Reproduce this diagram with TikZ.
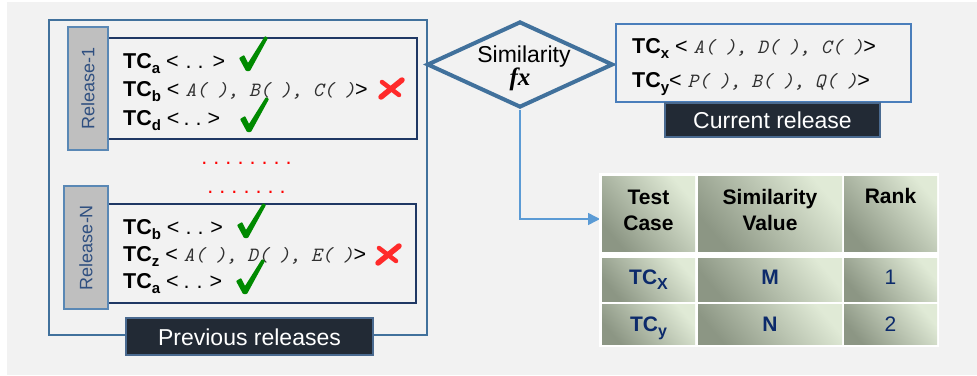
\documentclass[tikz,border=0pt]{standalone}
\usepackage{fontspec}
\setmainfont{Liberation Sans}
\setmonofont{Latin Modern Mono}
\newfontfamily\serifb{Liberation Serif}
\usetikzlibrary{arrows.meta,shapes.geometric,fit}
\definecolor{bgc}{HTML}{F2F2F2}
\definecolor{frameblue}{HTML}{41719C}
\definecolor{curblue}{HTML}{4A7EBB}
\definecolor{navyc}{HTML}{1F3864}
\definecolor{tabgray}{HTML}{BFBFBF}
\definecolor{tabblue}{HTML}{5A88B5}
\definecolor{tabtxt}{HTML}{2F4F80}
\definecolor{labelc}{HTML}{222A35}
\definecolor{labeledge}{HTML}{4A6A90}
\definecolor{arrowc}{HTML}{5B9BD5}
\definecolor{cellhi}{HTML}{E0EAD6}
\definecolor{celllo}{HTML}{8C9684}
\definecolor{chkgreen}{HTML}{008A00}
\definecolor{xred}{HTML}{FF2A2A}
\definecolor{rowtxt}{HTML}{0C2A6B}
\definecolor{monoc}{HTML}{303030}
\newcommand\tcsub[1]{\textbf{TC}\raisebox{-5pt}{\fontsize{15}{15}\selectfont\bfseries #1}}
\newcommand\mono[1]{{\ttfamily\itshape\fontsize{20.2}{20.2}\selectfont\color{monoc}#1}}
\newcommand\dotgap[3]{<\hspace{#1pt}.\hspace{#2pt}.\hspace{#3pt}>}
\begin{document}
\begin{tikzpicture}[x=1pt,y=-1pt,
  outerframe/.style={draw=frameblue, line width=2pt, inner sep=0pt},
  curframe/.style={draw=curblue, line width=2pt, inner sep=0pt},
  relbox/.style={draw=navyc, line width=1.3pt, inner sep=0pt},
  tabbox/.style={draw=tabblue, fill=tabgray, line width=1.8pt, inner sep=0pt},
  tabtext/.style={rotate=90, text=tabtxt, font=\fontsize{18}{18}\selectfont, inner sep=0pt},
  darklabel/.style={fill=labelc, draw=labeledge, line width=1.5pt, inner sep=0pt},
  labeltext/.style={text=white, font=\fontsize{23}{23}\selectfont, inner sep=0pt, anchor=base},
  tcline/.style={anchor=base west, inner sep=0pt, font=\fontsize{21.5}{21.5}\selectfont},
  dotrow/.style={anchor=base, inner sep=0pt, text=red, font=\fontsize{21.6}{21.6}\selectfont\frenchspacing},
  cell/.style={inner sep=0pt, draw=none, top color=cellhi, bottom color=celllo, shading angle=-50},
  hdrtext/.style={font=\fontsize{21}{26}\selectfont\bfseries, align=center, inner sep=0pt, anchor=base},
  rowtext/.style={font=\fontsize{21}{21}\selectfont, text=rowtxt, inner sep=0pt, anchor=base},
  flow/.style={draw=arrowc, line width=1.5pt, -{Triangle[length=12pt,width=12pt]}},
  chk/.pic={\fill[chkgreen, rounded corners=0.8pt] (0,22) -- (5,19) -- (9,27) -- (26,0) -- (29,2) -- (11,35) -- (7,35) -- cycle;},
  xmark/.pic={\draw[xred, line width=5.5pt, line cap=round] (24,2) -- (3,19);
              \draw[xred, line width=4.5pt, line cap=round] (4,4) -- (21,17);}
]
\useasboundingbox (0,0) rectangle (977,375);
\fill[bgc] (7,2) rectangle (977,375);

% previous releases frame
\node[outerframe, fit={(49,20) (427,335)}] (prev) {};

% release 1
\node[relbox, fit={(108,38) (417,139)}] (rel1) {};
\node[tabbox, fit={(68,27) (108,150)}] (tab1) {};
\node[tabtext] (tab1t) at (tab1.center) {Release-1};
\node[tcline] (r1a) at (123,68) {\tcsub{a} \dotgap{7}{6}{9}};
\node[tcline] (r1b) at (123,96) {\tcsub{b} < \mono{A( ), B( ), C( )}>};
\node[tcline] (r1d) at (123,125) {\tcsub{d} \dotgap{4}{6}{6}};
\pic at (239,36) {chk};
\pic at (240,97) {chk};
\pic at (378,78) {xmark};

% dots
\node[dotrow] (dots1) at (246.5,164) {. . . . . . . .};
\node[dotrow] (dots2) at (246.5,193) {. . . . . . .};

% release N
\node[relbox, fit={(108,204) (416,303)}] (relN) {};
\node[tabbox, fit={(64,186) (108,309)}] (tabN) {};
\node[tabtext] (tabNt) at (tabN.center) {Release-N};
\node[tcline] (rNb) at (123,234) {\tcsub{b} \dotgap{6}{6}{7}};
\node[tcline] (rNz) at (123,261) {\tcsub{z} < \mono{A( ), D( ), E( )}>};
\node[tcline] (rNa) at (123,288) {\tcsub{a} \dotgap{5}{7}{7}};
\pic at (237,203) {chk};
\pic at (236,259) {chk};
\pic at (375,244) {xmark};

% previous releases label
\node[darklabel, fit={(126,318) (373,355)}] (prevlab) {};
\node[labeltext] (prevlabt) at (249.5,345) {Previous releases};

% similarity diamond
\node[diamond, draw=frameblue, line width=4pt, aspect=2.16, minimum width=186pt, minimum height=86pt, inner sep=0pt] (sim) at (520,64.5) {};
\node[anchor=base, inner sep=0pt, font=\fontsize{23}{23}\selectfont] (simt) at (524,62) {Similarity};
\node[anchor=base, inner sep=0pt, font=\serifb\bfseries\itshape\fontsize{25}{25}\selectfont] (fx) at (520,85) {fx};

% current release
\node[curframe, fit={(616,24) (911,102)}] (cur) {};
\node[tcline] (cx) at (632,53) {\tcsub{x} < \mono{A( ), D( ), C( )}>};
\node[tcline] (cy) at (632,87) {\tcsub{y}< \mono{P( ), B( ), Q( )}>};
\node[darklabel, fit={(665,103) (880,137)}] (curlab) {};
\node[labeltext] (curlabt) at (772.5,128) {Current release};

% connector
\coordinate (arrowend) at (600,219);
\draw[flow] (sim.south) |- (arrowend);

% table
\node[fill=white, inner sep=0pt, fit={(599,173) (939,347)}] (tbl) {};
\node[cell, fit={(602,176) (695,251)}] (h1) {};
\node[cell, fit={(698,176) (842,251)}] (h2) {};
\node[cell, fit={(844,176) (937,251)}] (h3) {};
\node[cell, fit={(602,258) (695,301)}] (a1) {};
\node[cell, fit={(698,258) (842,301)}] (a2) {};
\node[cell, fit={(844,258) (937,301)}] (a3) {};
\node[cell, fit={(602,304) (695,344)}] (b1) {};
\node[cell, fit={(698,304) (842,344)}] (b2) {};
\node[cell, fit={(844,304) (937,344)}] (b3) {};
\node[hdrtext] (h1t) at (648.5,230) {Test\\Case};
\node[hdrtext] (h2t) at (770,230) {Similarity\\Value};
\node[hdrtext] (h3t) at (890.5,203) {Rank};
\node[rowtext] (a1t) at (648.5,284) {\textbf{TC}\raisebox{-5pt}{\fontsize{16}{16}\selectfont\bfseries X}};
\node[rowtext] (a2t) at (770,284) {\textbf{M}};
\node[rowtext] (a3t) at (890.5,284) {1};
\node[rowtext] (b1t) at (648.5,331) {\textbf{TC}\raisebox{-5pt}{\fontsize{16}{16}\selectfont\bfseries y}};
\node[rowtext] (b2t) at (770,331) {\textbf{N}};
\node[rowtext] (b3t) at (890.5,331) {2};
\end{tikzpicture}
\end{document}
